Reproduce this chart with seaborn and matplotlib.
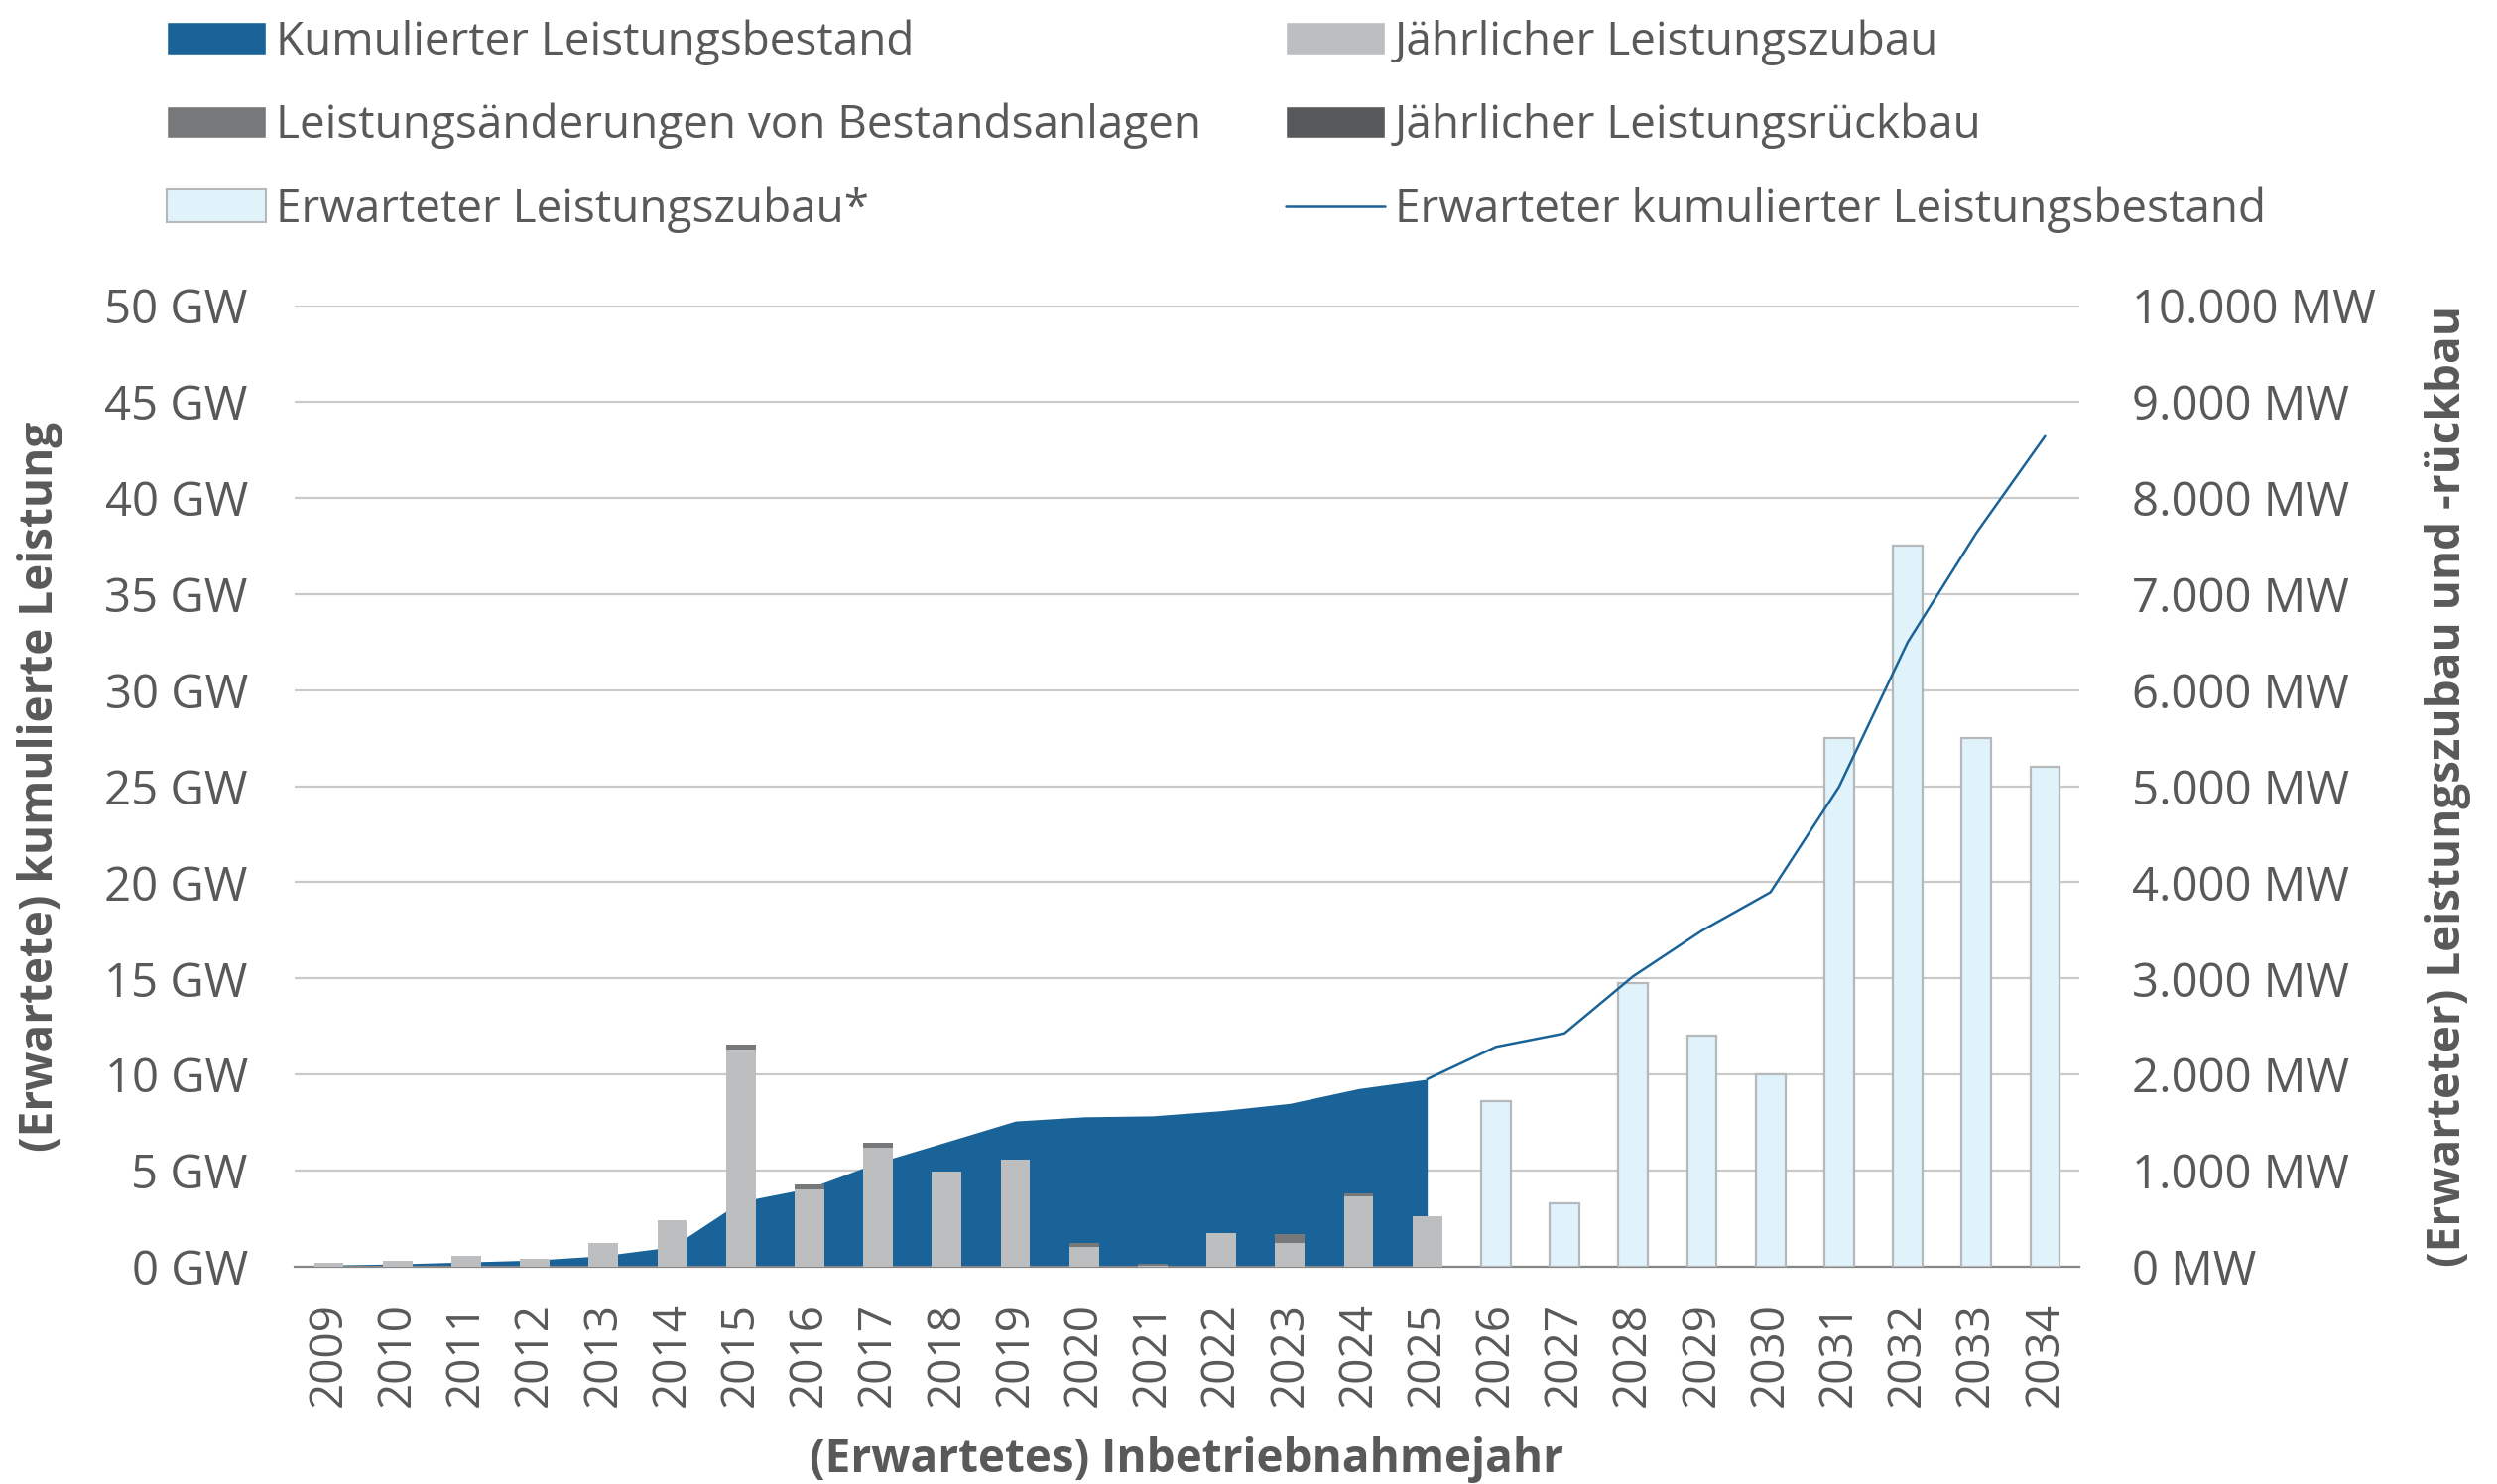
import matplotlib
matplotlib.use("Agg")
import matplotlib.pyplot as plt
from matplotlib.patches import Patch
from matplotlib.lines import Line2D
from matplotlib.ticker import FuncFormatter
import numpy as np
import pandas as pd
import seaborn as sns

# Inbetriebnahmejahre (Kategorien der x-Achse)
years = list(range(2009, 2035))
hist_years = list(range(2009, 2026))
exp_years = list(range(2026, 2035))
line_years = list(range(2025, 2035))

# kumulierter Leistungsbestand in GW (Flaeche, linke Achse)
cum_gw = [0.09, 0.15, 0.25, 0.35, 0.58, 1.04, 3.40, 4.10, 5.43, 6.50, 7.58,
          7.80, 7.85, 8.12, 8.50, 9.27, 9.76]
# jaehrlicher Zubau / Aenderungen / Rueckbau in MW (rechte Achse)
zubau_mw = [45, 58, 117, 86, 245, 485, 2262, 803, 1236, 995, 1116,
            207, 8, 348, 245, 735, 527]
aenderung_mw = [0, 0, 0, 0, 0, 0, 52, 51, 52, 0, 0,
                44, 22, 0, 93, 24, 0]
rueckbau_mw = [0, 0, 0, 0, 0, 0, 0, 0, 0, 0, 0,
               0, 0, 0, 0, 0, 0]
# erwarteter Zubau in MW und erwarteter kumulierter Bestand in GW
exp_zubau_mw = [1720, 660, 2950, 2400, 2000, 5500, 7500, 5500, 5200]
exp_cum_gw = [9.76, 11.44, 12.14, 15.11, 17.48, 19.48, 24.97, 32.49, 38.17, 43.2]

BLUE = "#1a6398"
ZUBAU = "#bdbec0"
AEND = "#76787a"
RUECK = "#58595b"
EXP_FACE = "#e0f2fa"
EXP_EDGE = "#b6b9bb"
TEXT = "#595959"
GRID = "#c9c9c9"
SPINE = "#868686"

sns.set_theme(style="white")
plt.rcParams["font.family"] = ["Open Sans", "DejaVu Sans"]
plt.rcParams["text.color"] = TEXT
plt.rcParams["axes.labelcolor"] = TEXT

labels = [str(y) for y in years]
hist = pd.DataFrame({
    "jahr": [str(y) for y in hist_years],
    "zubau": zubau_mw,
    "aend": aenderung_mw,
    "rueck": rueckbau_mw,
})
hist["stack2"] = hist["zubau"] + hist["aend"]
hist["stack3"] = hist["stack2"] + hist["rueck"]
expected = pd.DataFrame({"jahr": [str(y) for y in exp_years], "mw": exp_zubau_mw})

fig = plt.figure(figsize=(25.17, 14.96), dpi=100)
W, H = 2517, 1496
ax = fig.add_axes([297 / W, 1 - 1277 / H, 1799 / W, 969 / H])
ax2 = ax.twinx()
ax3 = ax.twinx()

# Flaeche: kumulierter Bestand
xpos_hist = [years.index(y) for y in hist_years]
ax.fill_between(xpos_hist, cum_gw, 0, color=BLUE, lw=0, zorder=2)

# Balken (rechte Achse)
bw = 0.43
common = dict(ax=ax2, x="jahr", order=labels, width=bw, errorbar=None,
              saturation=1, linewidth=0)
sns.barplot(data=hist, y="stack3", color=RUECK, **common)
sns.barplot(data=hist, y="stack2", color=AEND, **common)
sns.barplot(data=hist, y="zubau", color=ZUBAU, **common)
sns.barplot(data=expected, x="jahr", y="mw", order=labels, width=bw,
            errorbar=None, saturation=1, color=EXP_FACE,
            edgecolor=EXP_EDGE, linewidth=1.6, ax=ax2)

# Linie: erwarteter kumulierter Bestand
xpos_line = [years.index(y) for y in line_years]
sns.lineplot(x=xpos_line, y=exp_cum_gw, color=BLUE, lw=1.8, ax=ax3)

for a in (ax, ax2, ax3):
    a.set_xlim(-0.5, len(years) - 0.5)
ax.set_ylim(0, 50)
ax3.set_ylim(0, 50)
ax2.set_ylim(0, 10000)
ax3.set_axis_off()

# x-Achse
ax.set_xticks(range(len(years)))
ax.set_xticklabels(labels, rotation=90)
ax.set_xticks(np.arange(-0.5, len(years), 1), minor=True)
ax.tick_params(axis="x", which="major", length=0, pad=26, labelsize=33,
               labelcolor=TEXT)
ax.tick_params(axis="x", which="minor", length=12.5, width=1.5, color=SPINE)

# y-Achsen
ax.set_yticks(range(0, 51, 5))
ax.yaxis.set_major_formatter(FuncFormatter(lambda v, p: f"{v:.0f} GW"))
ax.tick_params(axis="y", length=0, pad=34, labelsize=34, labelcolor=TEXT)
ax2.set_yticks(range(0, 10001, 1000))
ax2.yaxis.set_major_formatter(
    FuncFormatter(lambda v, p: f"{v:,.0f}".replace(",", ".") + " MW"))
ax2.tick_params(axis="y", length=0, pad=38, labelsize=34, labelcolor=TEXT)

ax.grid(axis="y", color=GRID, lw=1.6)
ax.grid(axis="x", visible=False)
ax.set_axisbelow(True)
for a in (ax, ax2):
    for s in a.spines.values():
        s.set_visible(False)
ax.spines["bottom"].set_visible(True)
ax.spines["bottom"].set_color(SPINE)
ax.spines["bottom"].set_linewidth(1.6)
ax.spines["bottom"].set_zorder(5)

lab_kw = dict(fontsize=33, fontweight="bold", color=TEXT)
ax.set_xlabel("(Erwartetes) Inbetriebnahmejahr", **lab_kw)
ax.set_ylabel("(Erwartete) kumulierte Leistung", **lab_kw)
ax2.set_xlabel("")
ax2.set_ylabel("(Erwarteter) Leistungszubau und -rückbau", **lab_kw)
ax.xaxis.set_label_coords(0.5, (1277 - 1448) / 969)
ax.yaxis.set_label_coords((64 - 297) / 1799, 0.5)
ax2.yaxis.set_label_coords((2444 - 297) / 1799, 0.5)

handles = [
    Patch(facecolor=BLUE, label="Kumulierter Leistungsbestand"),
    Patch(facecolor=AEND, label="Leistungsänderungen von Bestandsanlagen"),
    Patch(facecolor=EXP_FACE, edgecolor=EXP_EDGE, lw=1.5,
          label="Erwarteter Leistungszubau*"),
    Patch(facecolor=ZUBAU, label="Jährlicher Leistungszubau"),
    Patch(facecolor=RUECK, label="Jährlicher Leistungsrückbau"),
    Line2D([], [], color=BLUE, lw=1.8,
           label="Erwarteter kumulierter Leistungsbestand"),
]
fig.legend(handles=handles, ncol=2, loc="upper left",
           bbox_to_anchor=(168 / W, 1 - 19 / H), frameon=False, fontsize=33,
           handlelength=2.18, handleheight=0.70, handletextpad=0.22,
           columnspacing=1.85, labelspacing=0.83, borderpad=0,
           borderaxespad=0)

fig.savefig("out.png", dpi=100)
